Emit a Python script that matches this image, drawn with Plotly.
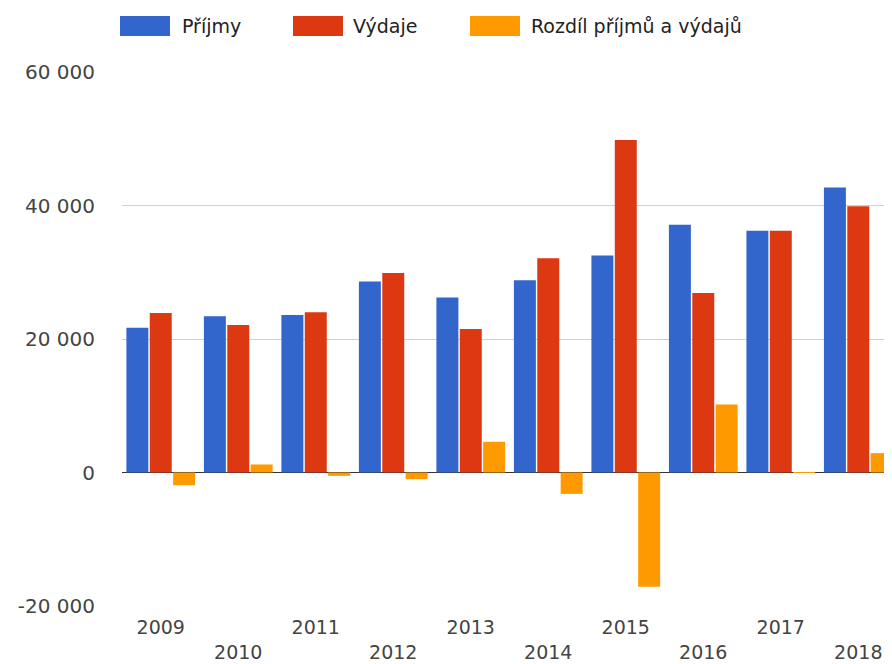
import plotly.graph_objects as go

years = ["2009", "2010", "2011", "2012", "2013", "2014", "2015", "2016", "2017", "2018"]
tick_labels = ["2009", "<br>2010", "2011", "<br>2012", "2013", "<br>2014", "2015", "<br>2016", "2017", "<br>2018"]
prijmy = [21700, 23400, 23600, 28600, 26200, 28800, 32500, 37100, 36200, 42700]
vydaje = [23900, 22100, 24000, 29900, 21500, 32100, 49800, 26900, 36200, 39900]
rozdil = [-1900, 1200, -500, -1000, 4600, -3200, -17100, 10200, 30, 2900]
y_ticks = [-20000, 0, 20000, 40000, 60000]
y_tick_labels = ["-20 000", "0", "20 000", "40 000", "60 000"]

series_names = ["Příjmy", "Výdaje", "Rozdíl příjmů a výdajů"]
series_colors = ["#3366cc", "#dc3912", "#ff9900"]

font = "DejaVu Sans, Liberation Sans, Arial, sans-serif"
# the page body adds an 8px offset, so the figure is 8px smaller on each axis
OFF = 8
W, H = 892 - OFF, 664 - OFF
ML, MR, MT, MB = 122 - OFF, 0, 72 - OFF, 58
pw, ph = W - ML - MR, H - MT - MB

def px2x(px):
    return (px - OFF - ML) / pw

def py2y(py):
    return (H - MB - (py - OFF)) / ph

fig = go.Figure()
for name, vals, col in zip(series_names, [prijmy, vydaje, rozdil], series_colors):
    fig.add_trace(go.Bar(x=years, y=vals, name=name, marker_color=col,
                         marker_line_width=0, showlegend=False))

# custom legend (large swatches like the reference)
legend_swatch_left = [120, 293, 470]
legend_text_left = [180, 351, 529]
shapes, annots = [], []
for name, col, sx, tx in zip(series_names, series_colors, legend_swatch_left, legend_text_left):
    shapes.append(dict(type="rect", xref="paper", yref="paper",
                       x0=px2x(sx), x1=px2x(sx + 50), y0=py2y(36), y1=py2y(16),
                       fillcolor=col, line=dict(width=0)))
    annots.append(dict(xref="paper", yref="paper", x=px2x(tx), y=py2y(26),
                       xanchor="left", yanchor="middle", text=name, showarrow=False,
                       font=dict(family=font, size=19, color="#222222")))

fig.update_layout(
    width=W, height=H,
    margin=dict(l=ML, r=MR, t=MT, b=MB, autoexpand=False),
    paper_bgcolor="white", plot_bgcolor="white",
    barmode="group", bargap=0.095, bargroupgap=0.06,
    font=dict(family=font, size=19, color="#444444"),
    showlegend=False,
    shapes=shapes, annotations=annots,
    xaxis=dict(type="category", range=[-0.5, 9.435], tickmode="array",
               tickvals=years, ticktext=tick_labels, showgrid=False, showline=False,
               ticks="", automargin=False, ticklabelstandoff=8,
               tickfont=dict(family=font, size=19, color="#444444")),
    yaxis=dict(range=[-20000, 60000], tickmode="array", tickvals=y_ticks,
               ticktext=y_tick_labels,
               showgrid=True, gridcolor="#d0d0d0", gridwidth=1,
               zeroline=True, zerolinecolor="#333333", zerolinewidth=1,
               showline=False, ticks="", ticklabelstandoff=26, automargin=False,
               tickfont=dict(family=font, size=20, color="#444444")),
)

fig.write_html("out.html")
